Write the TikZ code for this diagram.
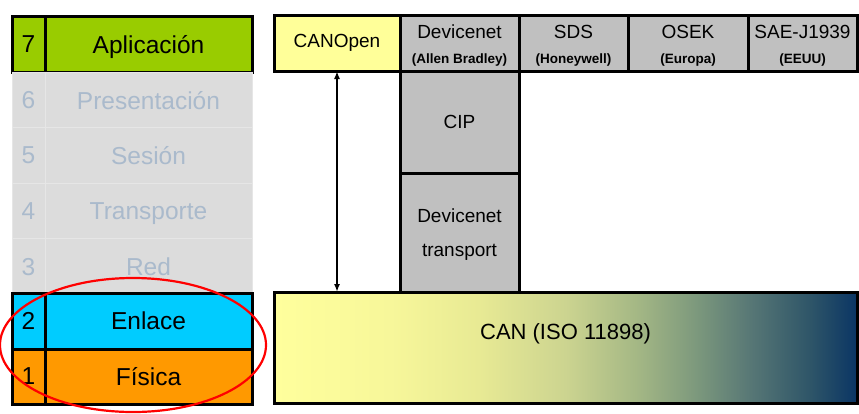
\documentclass[tikz,border=0pt]{standalone}
\usepackage{fontspec}
\setmainfont{Liberation Sans}
\usetikzlibrary{arrows.meta}

\definecolor{appgreen}{RGB}{153,204,0}
\definecolor{linkcyan}{RGB}{0,204,255}
\definecolor{physorange}{RGB}{255,153,0}
\definecolor{layergray}{RGB}{220,220,220}
\definecolor{layerline}{RGB}{230,230,230}
\definecolor{fadedtext}{RGB}{170,186,204}
\definecolor{protogray}{RGB}{192,192,192}
\definecolor{openyellow}{RGB}{255,255,153}

% CAN bus gradient: pale yellow through olive to navy
% (a path's bounding box maps onto the 25bp..75bp band of the shading)
\definecolor{cg0}{RGB}{255,255,156}
\definecolor{cg1}{RGB}{247,247,154}
\definecolor{cg2}{RGB}{232,234,148}
\definecolor{cg3}{RGB}{204,212,144}
\definecolor{cg4}{RGB}{165,184,133}
\definecolor{cg5}{RGB}{126,154,125}
\definecolor{cg6}{RGB}{86,118,117}
\definecolor{cg7}{RGB}{46,85,104}
\definecolor{cg8}{RGB}{10,53,100}
\pgfdeclarehorizontalshading{canshade}{100bp}{%
  color(0bp)=(cg0); color(25bp)=(cg0); color(35bp)=(cg1); color(42.5bp)=(cg2);
  color(50bp)=(cg3); color(56bp)=(cg4); color(61bp)=(cg5); color(66bp)=(cg6);
  color(71bp)=(cg7); color(75bp)=(cg8); color(100bp)=(cg8)}

\tikzset{
  cell/.style={rectangle, draw=black, line width=3pt, inner sep=0pt, outer sep=0pt},
  fadecell/.style={rectangle, draw=layerline, line width=1pt, fill=layergray, inner sep=0pt, outer sep=0pt},
  layertxt/.style={font=\fontsize{24.5}{29}\selectfont, text depth=0pt, yshift=-1pt},
  fadetxt/.style={layertxt, text=fadedtext},
  prototxt/.style={font=\fontsize{19}{23}\selectfont, inner sep=0pt},
  origintxt/.style={font=\bfseries\fontsize{13.5}{16}\selectfont, inner sep=0pt},
}

\begin{document}
\begin{tikzpicture}[x=1pt, y=-1pt]
\useasboundingbox (0,0) rectangle (859,413);

% ---- OSI stack ----
\fill[layergray] (12,15) rectangle (252,405);

\node[cell, fill=appgreen, minimum width=33pt, minimum height=56pt, layertxt] (n7) at (28.5,43) {7};
\node[cell, fill=appgreen, minimum width=207pt, minimum height=56pt, layertxt] (l7) at (148.5,43) {Aplicación};

\node[fadecell, minimum width=33pt, minimum height=55.5pt, fadetxt] (n6) at (28.5,99) {6};
\node[fadecell, minimum width=207pt, minimum height=55.5pt, fadetxt] (l6) at (148.5,99) {Presentación};
\node[fadecell, minimum width=33pt, minimum height=55.5pt, fadetxt] (n5) at (28.5,154.5) {5};
\node[fadecell, minimum width=207pt, minimum height=55.5pt, fadetxt] (l5) at (148.5,154.5) {Sesión};
\node[fadecell, minimum width=33pt, minimum height=55.5pt, fadetxt] (n4) at (28.5,210) {4};
\node[fadecell, minimum width=207pt, minimum height=55.5pt, fadetxt] (l4) at (148.5,210) {Transporte};
\node[fadecell, minimum width=33pt, minimum height=55.5pt, fadetxt] (n3) at (28.5,265.5) {3};
\node[fadecell, minimum width=207pt, minimum height=55.5pt, fadetxt] (l3) at (148.5,265.5) {Red};

\node[cell, fill=linkcyan, minimum width=33pt, minimum height=56pt, layertxt] (n2) at (28.5,320) {2};
\node[cell, fill=linkcyan, minimum width=207pt, minimum height=56pt, layertxt] (l2) at (148.5,320) {Enlace};
\node[cell, fill=physorange, minimum width=33pt, minimum height=55pt, layertxt] (n1) at (28.5,375.5) {1};
\node[cell, fill=physorange, minimum width=207pt, minimum height=55pt, layertxt] (l1) at (148.5,375.5) {Física};

% ---- higher-layer protocols ----
\node[cell, fill=openyellow, minimum width=126pt, minimum height=56pt, prototxt] (cop) at (337,43) {CANOpen};
\node[cell, fill=protogray, minimum width=119pt, minimum height=56pt] (dnet) at (459.5,43) {};
\node[cell, fill=protogray, minimum width=109pt, minimum height=56pt] (sds) at (573.5,43) {};
\node[cell, fill=protogray, minimum width=120pt, minimum height=56pt] (osek) at (688,43) {};
\node[cell, fill=protogray, minimum width=109pt, minimum height=56pt] (sae) at (802.5,43) {};

\node[prototxt] (dnetT) at (459.5,32) {Devicenet};
\node[origintxt] (dnetS) at (459.5,60) {(Allen Bradley)};
\node[prototxt] (sdsT) at (573.5,32) {SDS};
\node[origintxt] (sdsS) at (573.5,60) {(Honeywell)};
\node[prototxt] (osekT) at (688,32) {OSEK};
\node[origintxt] (osekS) at (688,60) {(Europa)};
\node[prototxt] (saeT) at (802.5,32) {SAE-J1939};
\node[origintxt] (saeS) at (802.5,60) {(EEUU)};

\node[cell, fill=protogray, minimum width=119pt, minimum height=102pt, prototxt] (cip) at (459.5,122) {CIP};
\node[cell, fill=protogray, minimum width=119pt, minimum height=119pt] (dtrans) at (459.5,232.5) {};
\node[prototxt, align=center, font=\fontsize{19}{34}\selectfont] (dtransT) at (459.5,235) {Devicenet\\transport};

% ---- CAN bus ----
\node[cell, shading=canshade, minimum width=583pt, minimum height=111pt] (can) at (565.5,347.5) {};
\node[font=\fontsize{22}{26}\selectfont] (canT) at (565.5,334) {CAN (ISO 11898)};

% CANOpen sits directly on CAN
\draw[line width=1.8pt, {Latex[length=8pt,width=6pt]}-{Latex[length=8pt,width=6pt]}]
  (cop.south) -- (cop.south |- can.north);

% highlight of the CAN-covered layers
\draw[red, line width=2.2pt] (133,345) ellipse [x radius=133pt, y radius=67pt];
\end{tikzpicture}
\end{document}
